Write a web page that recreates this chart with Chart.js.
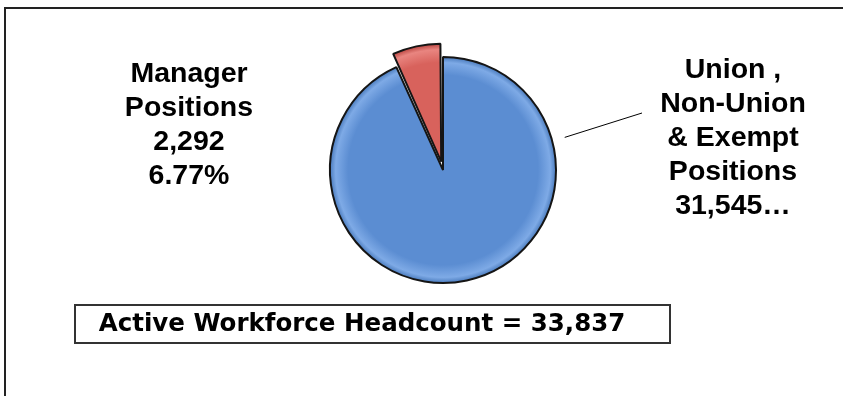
<!DOCTYPE html>
<html>
<head>
<meta charset="utf-8">
<script src="https://cdn.jsdelivr.net/npm/chart.js@4.4.0/dist/chart.umd.min.js"></script>
<style>
  html, body { margin: 0; padding: 0; background: #fff; }
  #wrap { position: relative; width: 843px; height: 396px; overflow: hidden; }
  #frame { position: absolute; left: 4px; top: 7px; width: 900px; height: 500px;
           border-top: 2px solid #222; border-left: 2px solid #222; }
  #chart { position: absolute; left: 0; top: 0; }
</style>
</head>
<body>
<div id="wrap">
  <div id="frame"></div>
  <canvas id="chart" width="843" height="396"></canvas>
</div>
<script>
// ---------------------------------------------------------------------------
// Data
// ---------------------------------------------------------------------------
const categories = ['Union , Non-Union & Exempt Positions', 'Manager Positions'];
const headcounts = [31545, 2292];
const sliceLabels = [
  ['Union ,', 'Non-Union', '& Exempt', 'Positions', '31,545…'],
  ['Manager', 'Positions', '2,292', '6.77%'],
];
const headline = 'Active Workforce Headcount = 33,837';

const C = {
  blue:   ['#5b8dd2', '#7eaae6', '#4a7bbd'],   // mid, rim highlight, edge
  red:    ['#d8625c', '#e98580', '#b9443f'],
  ink:    '#000',
  edge:   '#151515',
};

const RADIUS = 113;

// radial shading, a bit like the Excel bevel
function shade(ctx){
  const [mid, hi, lo] = ctx.dataIndex === 0 ? C.blue : C.red;
  const area = ctx.chart.chartArea;
  if (!area) return mid;
  const cx = (area.left + area.right) / 2;
  const cy = (area.top + area.bottom) / 2;
  const r = ctx.dataIndex === 0 ? RADIUS : RADIUS + 5;
  const g = ctx.chart.ctx.createRadialGradient(cx, cy, 0, cx, cy, r);
  g.addColorStop(0, mid);
  g.addColorStop(0.84, mid);
  g.addColorStop(0.95, hi);
  g.addColorStop(1, lo);
  return g;
}

// slice labels + leader line + headline box
const decor = {
  id: 'decor',
  afterDraw(chart, args, opts){
    const ctx = chart.ctx;
    const arcs = chart.getDatasetMeta(0).data;
    ctx.save();
    ctx.fillStyle = C.ink;
    ctx.textAlign = 'center';
    ctx.textBaseline = 'alphabetic';
    ctx.font = 'bold 28.5px "Liberation Sans", Arial, sans-serif';
    sliceLabels.forEach((lines, i) => {
      const p = opts.labelPos[i];
      lines.forEach((t, k) => ctx.fillText(t, p.x, p.y + k * opts.lineH));
    });

    // leader line for the big slice
    const a = arcs[0];
    const ang = opts.leaderAngle * Math.PI / 180;
    ctx.strokeStyle = C.ink;
    ctx.lineWidth = 1;
    ctx.beginPath();
    ctx.moveTo(a.x + Math.cos(ang) * (a.outerRadius + 13), a.y + Math.sin(ang) * (a.outerRadius + 13));
    ctx.lineTo(opts.leaderEnd.x, opts.leaderEnd.y);
    ctx.stroke();

    // headline box
    const b = opts.box;
    ctx.fillStyle = '#fff';
    ctx.fillRect(b.x, b.y, b.w, b.h);
    ctx.strokeStyle = '#333';
    ctx.lineWidth = 2;
    ctx.strokeRect(b.x, b.y, b.w, b.h);
    ctx.fillStyle = C.ink;
    ctx.font = 'bold 24.5px "DejaVu Sans", Verdana, sans-serif';
    ctx.textBaseline = 'middle';
    ctx.fillText(headline, 362, b.y + b.h / 2 + 1);
    ctx.restore();
  }
};

new Chart(document.getElementById('chart'), {
  type: 'pie',
  data: {
    labels: categories,
    datasets: [{
      data: headcounts,
      backgroundColor: shade,
      borderColor: C.edge,
      borderWidth: 2,
      // Chart.js moves an arc by offset/4, so 34 gives the ~8px pull-out
      offset: [0, 34],
    }]
  },
  options: {
    responsive: false,
    animation: false,
    radius: RADIUS,
    layout: { padding: { left: 200, right: 157, top: 30, bottom: 86 } },
    plugins: {
      legend: { display: false },
      tooltip: { enabled: false },
      decor: {
        labelPos: [ { x: 733, y: 78 }, { x: 189, y: 82 } ],
        lineH: 34,
        leaderAngle: -15,
        leaderEnd: { x: 642, y: 113 },
        box: { x: 75, y: 305, w: 595, h: 38 },
      },
    },
  },
  plugins: [decor],
});
</script>
</body>
</html>
